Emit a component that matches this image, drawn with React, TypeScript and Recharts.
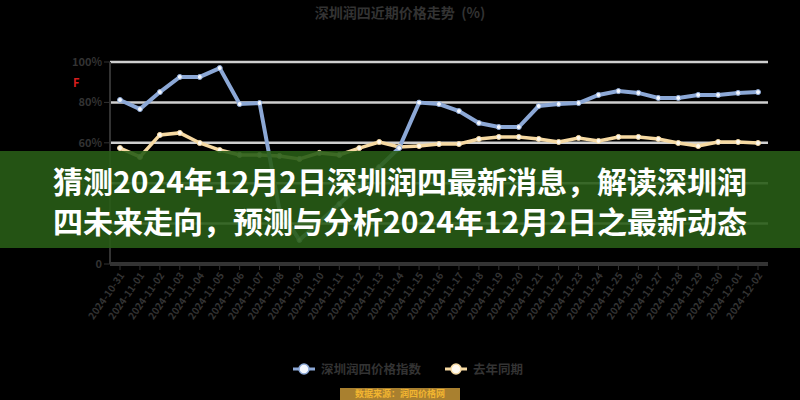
import React from "react";
import { LineChart, Line, XAxis, YAxis, CartesianGrid } from "recharts";

// 日期
const dates = [
  "2024-10-31", "2024-11-01", "2024-11-02", "2024-11-03", "2024-11-04",
  "2024-11-05", "2024-11-06", "2024-11-07", "2024-11-08", "2024-11-09",
  "2024-11-10", "2024-11-11", "2024-11-12", "2024-11-13", "2024-11-14",
  "2024-11-15", "2024-11-16", "2024-11-17", "2024-11-18", "2024-11-19",
  "2024-11-20", "2024-11-21", "2024-11-22", "2024-11-23", "2024-11-24",
  "2024-11-25", "2024-11-26", "2024-11-27", "2024-11-28", "2024-11-29",
  "2024-11-30", "2024-12-01", "2024-12-02",
];

// 价格指数
const indexValues = [
  81.2, 76.7, 85.1, 92.6, 92.6, 97.0, 79.2, 79.7, 26.7, 11.9,
  20.8, 29.7, 38.6, 48.0, 57.4, 79.9, 79.2, 75.7, 69.8, 67.8,
  67.8, 78.2, 79.2, 79.7, 83.7, 85.6, 84.7, 82.2, 82.2, 83.7,
  83.7, 84.7, 85.1,
];

// 去年同期
const lastYearValues = [
  57.4, 53.0, 63.9, 64.9, 59.9, 56.4, 54.0, 54.0, 53.5, 52.0,
  55.0, 54.0, 57.4, 60.4, 57.9, 58.4, 59.4, 59.4, 61.9, 62.9,
  62.9, 61.9, 60.4, 62.4, 60.9, 62.9, 62.9, 61.9, 59.9, 58.4,
  60.4, 60.4, 59.9,
];

const yTicks = [0, 20, 40, 60, 80, 100];

const data = dates.map((d, i) => ({
  date: d,
  index: indexValues[i],
  lastYear: lastYearValues[i],
}));

const FONT = '"Noto Sans CJK SC", "Noto Sans", sans-serif';
const GRAY = "#333333";

const DateTick = (props: any) => {
  const { x, y, payload } = props;
  return (
    <g transform={`translate(${x},${y})`}>
      <text
        x={0}
        y={0}
        dy={6}
        textAnchor="end"
        transform="rotate(-55)"
        fill={GRAY}
        fontSize={10}
        fontWeight={700}
        fontFamily={FONT}
      >
        {payload.value}
      </text>
    </g>
  );
};

export default function App() {
  return (
    <div
      style={{
        position: "absolute",
        left: 0,
        top: 0,
        width: 800,
        height: 400,
        background: "#000",
        overflow: "hidden",
        fontFamily: FONT,
      }}
    >
      {/* 标题 */}
      <div
        style={{
          position: "absolute",
          top: 2,
          left: 0,
          width: 800,
          textAlign: "center",
          color: GRAY,
          fontSize: 14,
          fontWeight: 700,
          whiteSpace: "pre",
        }}
      >
        深圳润四近期价格走势{"  "}(%)
      </div>

      <div
        style={{
          position: "absolute",
          left: 73,
          top: 74,
          color: "#d81e1e",
          fontSize: 11,
          fontWeight: 700,
        }}
      >
        F
      </div>

      <LineChart
        width={800}
        height={400}
        data={data}
        margin={{ top: 62, right: 32, left: 0, bottom: 0 }}
        style={{ position: "absolute", left: 0, top: 0 }}
      >
        <CartesianGrid vertical={false} stroke="#cfcfcf" strokeWidth={2.5} />
        <XAxis
          dataKey="date"
          height={136}
          interval={0}
          padding={{ left: 10, right: 10 }}
          axisLine={{ stroke: GRAY, strokeWidth: 2 }}
          tickLine={{ stroke: GRAY }}
          tick={<DateTick />}
        />
        <YAxis
          width={110}
          domain={[0, 100]}
          ticks={yTicks}
          axisLine={{ stroke: GRAY, strokeWidth: 2 }}
          tickLine={{ stroke: GRAY }}
          tickFormatter={(v: number) => (v === 0 ? "0" : `${v}%`)}
          tick={{ fill: GRAY, fontSize: 11, fontWeight: 700, fontFamily: FONT }}
        />
        <Line
          type="linear"
          dataKey="lastYear"
          stroke="#f6d9a2"
          strokeWidth={3.5}
          dot={{ r: 2.5, fill: "#fffaf0", stroke: "#f6d9a2", strokeWidth: 1 }}
          isAnimationActive={false}
        />
        <Line
          type="linear"
          dataKey="index"
          stroke="#8ca8d6"
          strokeWidth={4}
          dot={{ r: 2.5, fill: "#f4f8ff", stroke: "#8ca8d6", strokeWidth: 1 }}
          isAnimationActive={false}
        />
      </LineChart>

      {/* 图例 */}
      <div
        style={{
          position: "absolute",
          top: 359,
          left: 8,
          width: 800,
          display: "flex",
          justifyContent: "center",
          alignItems: "center",
          color: GRAY,
          fontSize: 12.5,
          fontWeight: 700,
        }}
      >
        <svg width={22} height={14} style={{ marginRight: 6 }}>
          <line x1={0} y1={7} x2={22} y2={7} stroke="#8ca8d6" strokeWidth={3} />
          <circle cx={11} cy={7} r={5} fill="#f4f8ff" stroke="#8ca8d6" strokeWidth={1.5} />
        </svg>
        <span style={{ marginRight: 24 }}>深圳润四价格指数</span>
        <svg width={22} height={14} style={{ marginRight: 6 }}>
          <line x1={0} y1={7} x2={22} y2={7} stroke="#f6d9a2" strokeWidth={3} />
          <circle cx={11} cy={7} r={5} fill="#fffaf0" stroke="#f6d9a2" strokeWidth={1.5} />
        </svg>
        <span>去年同期</span>
      </div>

      {/* 来源 */}
      <div
        style={{
          position: "absolute",
          top: 388,
          left: 340,
          width: 120,
          height: 12,
          background: "#a9802f",
          color: "#f2b530",
          fontSize: 9,
          lineHeight: "12px",
          textAlign: "center",
          fontWeight: 700,
        }}
      >
        数据来源：润四价格网
      </div>

      {/* 横幅 */}
      <div
        style={{
          position: "absolute",
          top: 151,
          left: 0,
          width: 800,
          height: 97,
          background: "rgba(40, 92, 22, 0.9)",
          color: "#fff",
          fontSize: 30,
          fontWeight: 700,
          lineHeight: "40px",
          textAlign: "center",
          paddingTop: 9,
          boxSizing: "border-box",
        }}
      >
        猜测2024年12月2日深圳润四最新消息，解读深圳润
        <br />
        四未来走向，预测与分析2024年12月2日之最新动态
      </div>
    </div>
  );
}
